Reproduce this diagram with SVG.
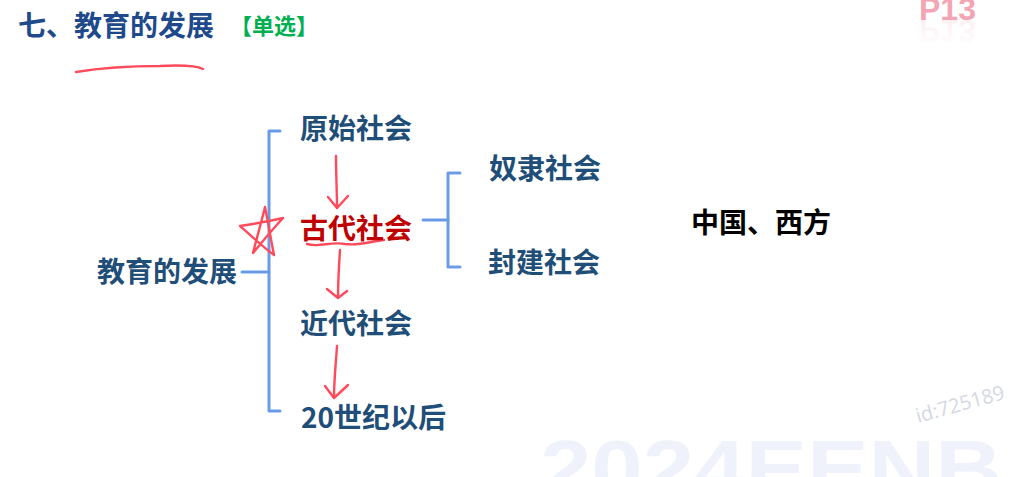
<svg xmlns="http://www.w3.org/2000/svg" width="1012" height="477" viewBox="0 0 1012 477">
<style>
.t{font-family:"Noto Sans CJK SC","Noto Sans",sans-serif;font-weight:bold;font-size:28px;fill:#1f4e79;dominant-baseline:central}
.red{fill:#c00000}
.blk{fill:#000}
.br{fill:none;stroke:#6a9be6;stroke-width:3;stroke-linecap:round;stroke-linejoin:round}
.pen{fill:none;stroke:#ff4a5c;stroke-width:2.4;stroke-linecap:round;stroke-linejoin:round}
</style>
<defs>
<linearGradient id="fade" x1="0" y1="0" x2="0" y2="1">
<stop offset="0" stop-color="#f4a6b4" stop-opacity="0"/>
<stop offset="1" stop-color="#f4a6b4" stop-opacity="0.22"/>
</linearGradient>
</defs>
<rect width="1012" height="477" fill="#fff"/>
<!-- watermarks -->
<text x="540" y="496" font-family="Liberation Sans,Arial,sans-serif" font-weight="bold" font-size="80" fill="#eff2fa" textLength="462" lengthAdjust="spacingAndGlyphs">2024EENB</text>
<text x="918" y="423" transform="rotate(-15.5 918 423)" font-family="Open Sans,sans-serif" font-size="20" fill="#d3d8e3">id:725189</text>
<g id="p13">
<text x="919" y="20" font-family="Liberation Sans,Arial,sans-serif" font-weight="bold" font-size="32" fill="#f3a5b3">P13</text>
<text x="919" y="-20" transform="scale(1,-1)" font-family="Liberation Sans,Arial,sans-serif" font-weight="bold" font-size="32" fill="url(#fade)">P13</text>
</g>
<!-- title -->
<g id="title">
<text class="t" x="18" y="24" style="fill:#1e4a8c">七、教育的发展</text>
<text x="230" y="24" font-family="Noto Sans CJK SC,sans-serif" font-weight="bold" font-size="22" fill="#00b050" dominant-baseline="central">【单选】</text>
<path class="pen" d="M76,72 C100,68 130,66 160,66 C180,65 195,65 203,69"/>
</g>
<!-- connectors -->
<g id="connectors">
<path class="br" d="M280,131 H269 V411 H280"/>
<path class="br" d="M242,272 H269"/>
<path class="br" d="M460,173 H448 V267 H460"/>
<path class="br" d="M423,220 H448"/>
<path class="pen" d="M336,156 C336,175 337,192 337,208 M328,197 L337,208 L348,196"/>
<path class="pen" d="M340,250 C339,265 338,282 338,298 M327,289 L338,298 L347,291"/>
<path class="pen" d="M337,346 C336,362 334,380 334,398 M325,386 L334,398 L348,385"/>
<path class="pen" d="M307,244 C320,248 330,241 345,244 C360,246 372,241 384,240"/>
<path class="pen" d="M253,253 C257,237 262,220 265,207 C268,222 271,240 274,255 C262,246 250,235 240,226 C254,224 270,221 283,218 C272,230 262,242 253,253 Z"/>
</g>
<!-- nodes -->
<g id="n-root"><text class="t" x="97" y="270">教育的发展</text></g>
<g id="n-yuanshi"><text class="t" x="300" y="127">原始社会</text></g>
<g id="n-gudai"><text class="t red" x="300" y="227">古代社会</text></g>
<g id="n-jindai"><text class="t" x="300" y="322">近代社会</text></g>
<g id="n-20"><text class="t" x="301" y="416">20世纪以后</text></g>
<g id="n-nuli"><text class="t" x="489" y="167">奴隶社会</text></g>
<g id="n-fengjian"><text class="t" x="488" y="261">封建社会</text></g>
<g id="n-zx"><text class="t blk" x="691" y="221">中国、西方</text></g>
</svg>
